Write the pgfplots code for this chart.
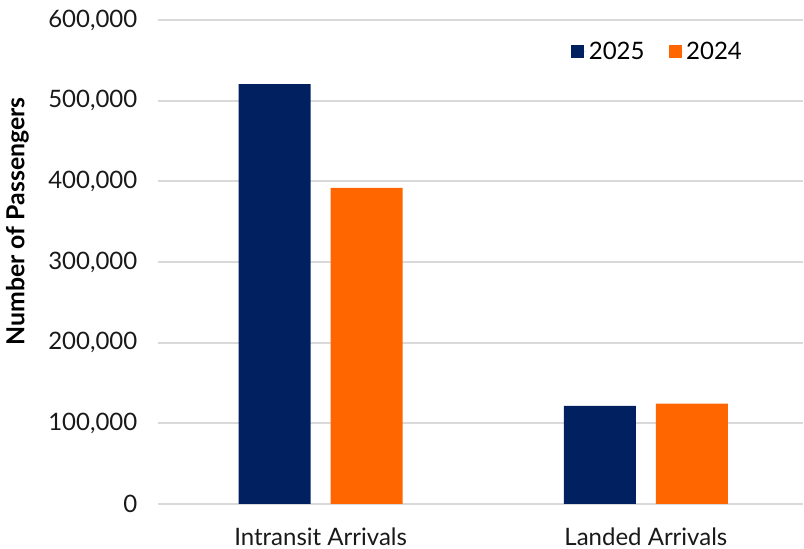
\documentclass[border=0pt]{standalone}
\usepackage{pgfplots}
\pgfplotsset{compat=1.18}
\usepackage{fontspec}
\setmainfont{Lato}
\definecolor{navy}{HTML}{002060}
\definecolor{orng}{HTML}{FF6600}
\definecolor{gridc}{HTML}{D9D9D9}
\begin{document}
\begin{tikzpicture}[x=1pt,y=1pt]
\begin{axis}[
  scale only axis,
  width=483.75pt, height=363pt,
  xmin=-0.5, xmax=1.483,
  ymin=0, ymax=600000,
  ytick={0,100000,200000,300000,400000,500000,600000},
  yticklabels={0,{100,000},{200,000},{300,000},{400,000},{500,000},{600,000}},
  scaled y ticks=false,
  ymajorgrids,
  major grid style={draw=gridc, line width=1.5pt},
  axis line style={draw=none},
  major tick length=0pt,
  xtick={0,1},
  xticklabels={Intransit Arrivals, Landed Arrivals},
  tick label style={font=\fontsize{18}{21}\selectfont, text=black!90},
  yticklabel style={xshift=-12pt},
  xticklabel style={yshift=-14pt},
  ylabel={Number of Passengers},
  every axis y label/.style={at={(axis description cs:-0.218,0.584)}, rotate=90, anchor=center,
    font=\bfseries\fontsize{18.6}{21}\selectfont},
  legend style={at={(axis description cs:0.775,0.934)}, anchor=center, draw=none, fill=none,
    legend columns=2, font=\fontsize{18}{21}\selectfont,
    /tikz/every even column/.append style={column sep=16pt}},
  legend image code/.code={\fill[#1] (0pt,-4.9pt) rectangle (9.75pt,4.9pt); \path (0pt,0pt) -- (11.25pt,0pt);},
]
\addplot[ybar, bar width=54pt, bar shift=-34.5pt, fill=navy, draw=none] coordinates {(0,520500) (1,121500)};
\addplot[ybar, bar width=54pt, bar shift=34.5pt, fill=orng, draw=none] coordinates {(0,392000) (1,124500)};
\legend{2025,2024}
\end{axis}
\pgfresetboundingbox
\path ([xshift=-118.5pt,yshift=-33.75pt]current axis.south west) rectangle ([xshift=0.75pt,yshift=15pt]current axis.north east);
\end{tikzpicture}
\end{document}
